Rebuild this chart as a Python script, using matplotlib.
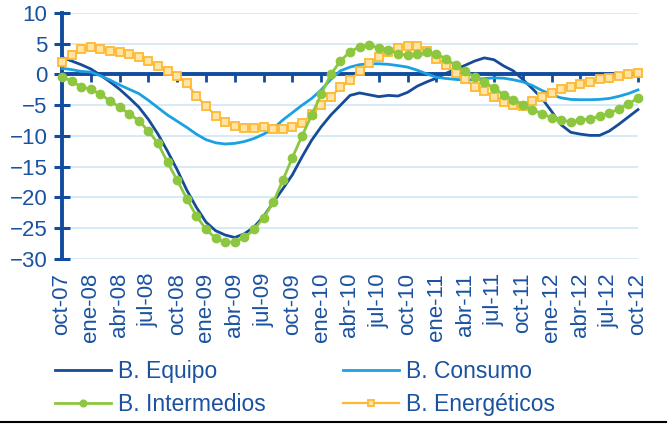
import matplotlib
matplotlib.use("Agg")
import matplotlib.pyplot as plt
from matplotlib.lines import Line2D

plt.rcParams['font.family'] = ['Liberation Sans', 'DejaVu Sans']

# ---- data ----
tick_labels = ["oct-07", "ene-08", "abr-08", "jul-08", "oct-08", "ene-09", "abr-09",
               "jul-09", "oct-09", "ene-10", "abr-10", "jul-10", "oct-10", "ene-11",
               "abr-11", "jul-11", "oct-11", "ene-12", "abr-12", "jul-12", "oct-12"]

equipo = [2.8, 2.2, 1.6, 0.9, -0.1, -1.2, -2.4, -3.8, -5.3, -7.3,
          -9.7, -12.5, -15.5, -18.8, -21.6, -24.0, -25.4, -26.1, -26.5, -25.9,
          -24.8, -23.1, -20.8, -18.6, -16.3, -13.4, -10.7, -8.5, -6.6, -5.0,
          -3.4, -3.0, -3.3, -3.6, -3.4, -3.5, -2.9, -1.9, -1.2, -0.6,
          0.2, 0.85, 1.5, 2.2, 2.7, 2.4, 1.4, 0.6, -0.8, -2.3,
          -3.9, -6.0, -8.2, -9.4, -9.7, -9.9, -9.9, -9.2, -8.1, -6.9,
          -5.7]

consumo = [1.0, 0.8, 0.5, 0.4, -0.2, -0.9, -1.7, -2.4, -3.1, -4.2,
           -5.4, -6.6, -7.6, -8.6, -9.7, -10.6, -11.1, -11.3, -11.2, -10.9,
           -10.4, -9.7, -8.8, -7.4, -6.2, -5.0, -3.9, -2.5, -0.8, 0.6,
           1.2, 1.6, 1.75, 1.75, 1.65, 1.45, 1.2, 0.7, 0.1, -0.45,
           -0.65, -0.8, -0.9, -0.85, -0.65, -0.55, -0.6, -0.85, -1.2, -1.8,
           -2.6, -3.3, -3.8, -4.05, -4.1, -4.1, -4.05, -3.9, -3.55, -3.1,
           -2.5]

intermedios = [-0.35, -1.1, -2.0, -2.4, -3.2, -4.3, -5.3, -6.4, -7.5, -9.2,
               -11.2, -14.3, -17.2, -20.2, -23.0, -25.2, -26.6, -27.3, -27.2, -26.5,
               -25.2, -23.3, -20.8, -17.2, -13.5, -10.0, -6.6, -3.2, 0.0, 2.2,
               3.7, 4.5, 4.8, 4.3, 4.0, 3.4, 3.1, 3.3, 3.6, 3.4,
               2.5, 1.5, 0.5, -0.4, -1.3, -2.2, -3.3, -4.1, -4.9, -5.7,
               -6.4, -7.0, -7.4, -7.7, -7.4, -7.2, -6.8, -6.3, -5.6, -4.8,
               -3.8]

energeticos = [2.1, 3.2, 4.1, 4.4, 4.2, 3.9, 3.6, 3.3, 2.8, 2.2,
               1.4, 0.6, -0.25, -1.4, -3.5, -5.1, -6.7, -7.7, -8.4, -8.7,
               -8.75, -8.6, -8.9, -8.9, -8.5, -7.9, -6.5, -5.0, -3.6, -2.1,
               -0.9, 0.5, 1.8, 2.8, 3.6, 4.25, 4.7, 4.6, 3.9, 2.6,
               1.6, 0.3, -0.8, -2.0, -2.7, -3.6, -4.4, -5.0, -5.2, -4.3,
               -3.7, -3.0, -2.4, -2.0, -1.5, -1.2, -0.8, -0.5, -0.25, 0.0,
               0.2]

series_names = ["B. Equipo", "B. Consumo", "B. Intermedios", "B. Energéticos"]

# ---- styles ----
NAVY = "#124C9E"
TXT = "#1A52A0"
C_EQ = "#164B98"
C_CO = "#1BA1E2"
C_IN = "#8DC63F"
C_EN = "#FDB933"
GRID = "#CFE7F5"

W, H = 669, 424
fig = plt.figure(figsize=(W / 100, H / 100), dpi=100)
ax = fig.add_axes([62 / W, 1 - 259 / H, 576 / W, 246 / H])

x = list(range(len(equipo)))

l1, = ax.plot(x, equipo, color=C_EQ, lw=2.0, zorder=3, clip_on=False)
l2, = ax.plot(x, consumo, color=C_CO, lw=2.0, zorder=3, clip_on=False)
l3, = ax.plot(x, intermedios, color=C_IN, lw=2.0, marker='o', ms=6,
              mfc=C_IN, mec=C_IN, zorder=4, clip_on=False)
l4, = ax.plot(x, energeticos, color=C_EN, lw=1.6, marker='s', ms=5.2,
              mfc="#FFE4A6", mec=C_EN, mew=1.3, zorder=3.5, clip_on=False)

ax.set_xlim(0, 60)
ax.set_ylim(-30, 10)
ax.set_yticks(range(-30, 11, 5))

for s in ['top', 'right']:
    ax.spines[s].set_visible(False)
ax.spines['left'].set_color(NAVY)
ax.spines['left'].set_linewidth(2.8)
ax.spines['bottom'].set_position(('data', 0))
ax.spines['bottom'].set_color(NAVY)
ax.spines['bottom'].set_linewidth(2.8)

ax.yaxis.grid(True, color=GRID, lw=1.2)
ax.set_axisbelow(True)

ax.tick_params(axis='y', direction='inout', length=11, width=2.2, color=NAVY,
               labelsize=16, labelcolor=TXT, pad=5)
xt = list(range(0, 61, 3))
ax.set_xticks(xt)
ax.tick_params(axis='x', direction='out', length=6, width=2, color=NAVY,
               labelbottom=False)

sec = ax.secondary_xaxis('bottom')
sec.set_xticks(xt, tick_labels, rotation=90)
sec.tick_params(length=0, labelsize=16, labelcolor=TXT, pad=10)
sec.spines['bottom'].set_visible(False)

# legend: row 1 Equipo / Consumo, row 2 Intermedios / Energéticos
leg = fig.legend([l1, l3, l2, l4],
                 [series_names[0], series_names[2], series_names[1], series_names[3]],
                 ncol=2, loc='upper left', bbox_to_anchor=(55 / W, 1 - 360 / H),
                 frameon=False, fontsize=16.5, handlelength=2.45, handletextpad=0.3,
                 columnspacing=3.35, labelspacing=0.42, numpoints=1, markerscale=0.8,
                 borderaxespad=0, borderpad=0)
for t in leg.get_texts():
    t.set_color(TXT)

fig.add_artist(Line2D([0, 0.995], [1 - 421.5 / H, 1 - 421.5 / H],
                      transform=fig.transFigure, color='black', lw=1.5))

fig.savefig("out.png", dpi=100)
